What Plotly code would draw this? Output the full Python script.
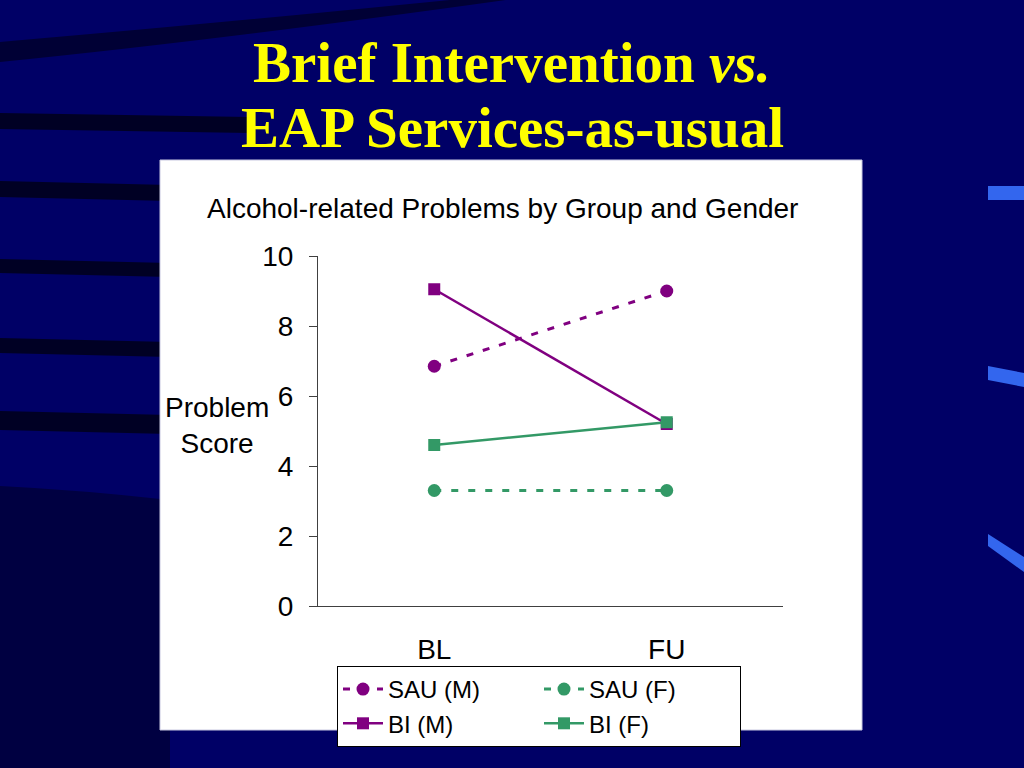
import plotly.graph_objects as go

# ---- data ----
categories = ["BL", "FU"]
sau_m = [6.85, 9.0]
sau_f = [3.3, 3.3]
bi_m = [9.05, 5.2]
bi_f = [4.6, 5.25]
y_ticks = [0, 2, 4, 6, 8, 10]

W, H = 1024, 768
# plot area in pixels
PL, PR, PT, PB = 318, 783, 256, 606


def px(x):
    return (x - PL) / (PR - PL)


def py(y):
    return (PB - y) / (PB - PT)


PURPLE = "#800080"
GREEN = "#339966"
SANS = "Liberation Sans, Arial, sans-serif"
SERIF = "Liberation Serif, Times New Roman, serif"

fig = go.Figure()
fig.add_trace(go.Scatter(x=categories, y=sau_m, name="SAU (M)", mode="lines+markers",
                         line=dict(color=PURPLE, width=3, dash="7px,10px"),
                         marker=dict(symbol="circle", size=13, color=PURPLE)))
fig.add_trace(go.Scatter(x=categories, y=sau_f, name="SAU (F)", mode="lines+markers",
                         line=dict(color=GREEN, width=3, dash="7px,10px"),
                         marker=dict(symbol="circle", size=13, color=GREEN)))
fig.add_trace(go.Scatter(x=categories, y=bi_m, name="BI (M)", mode="lines+markers",
                         line=dict(color=PURPLE, width=2.5),
                         marker=dict(symbol="square", size=12, color=PURPLE)))
fig.add_trace(go.Scatter(x=categories, y=bi_f, name="BI (F)", mode="lines+markers",
                         line=dict(color=GREEN, width=2.5),
                         marker=dict(symbol="square", size=12, color=GREEN)))

shapes = []
# dark background stripes on the left
stripes = [(113, 129, 250), (181, 197, 170), (259, 273, 170), (338, 353, 170), (411, 430, 170)]
for y0, y1, xe in stripes:
    shapes.append(dict(type="path", xref="paper", yref="paper", layer="below",
                       path=f"M {px(0)},{py(y0)} Q {px(xe/2)},{py(y0+2)} {px(xe)},{py(y0+4)} "
                            f"L {px(xe)},{py(y1+4)} Q {px(xe/2)},{py(y1+2)} {px(0)},{py(y1)} Z",
                       fillcolor="rgba(0,0,15,0.75)", line=dict(width=0)))
# top arc
shapes.append(dict(type="path", xref="paper", yref="paper", layer="below",
                   path=f"M {px(0)},{py(42)} Q {px(200)},{py(25)} {px(470)},{py(-2)} "
                        f"L {px(520)},{py(-2)} Q {px(220)},{py(40)} {px(0)},{py(62)} Z",
                   fillcolor="rgba(0,0,20,0.6)", line=dict(width=0)))
# darker lower-left area
shapes.append(dict(type="path", xref="paper", yref="paper", layer="below",
                   path=f"M {px(0)},{py(486)} Q {px(80)},{py(490)} {px(170)},{py(500)} "
                        f"L {px(170)},{py(768)} L {px(0)},{py(768)} Z",
                   fillcolor="rgba(0,0,10,0.4)", line=dict(width=0)))
# light blue marks on the right edge
shapes.append(dict(type="path", xref="paper", yref="paper", layer="below",
                   path=f"M {px(988)},{py(186)} L {px(1024)},{py(186)} L {px(1024)},{py(200)} L {px(988)},{py(200)} Z",
                   fillcolor="#3366ee", line=dict(width=0)))
shapes.append(dict(type="path", xref="paper", yref="paper", layer="below",
                   path=f"M {px(988)},{py(366)} L {px(1024)},{py(373)} L {px(1024)},{py(387)} L {px(988)},{py(380)} Z",
                   fillcolor="#3366ee", line=dict(width=0)))
shapes.append(dict(type="path", xref="paper", yref="paper", layer="below",
                   path=f"M {px(988)},{py(534)} L {px(1024)},{py(557)} L {px(1024)},{py(572)} L {px(988)},{py(546)} Z",
                   fillcolor="#3366ee", line=dict(width=0)))
# white chart panel
shapes.append(dict(type="rect", xref="paper", yref="paper", layer="below",
                   x0=px(160), x1=px(862), y0=py(730), y1=py(160),
                   fillcolor="white", line=dict(color="#c8c8e0", width=1)))

title_font = dict(family=SERIF, size=57, color="#ffff00", weight="bold")
annotations = [
    dict(text="Brief Intervention <i>vs.</i>", xref="paper", yref="paper",
         x=px(512), y=py(62), xanchor="center", yanchor="middle", showarrow=False, font=title_font),
    dict(text="EAP Services-as-usual", xref="paper", yref="paper",
         x=px(512), y=py(127), xanchor="center", yanchor="middle", showarrow=False, font=title_font),
    dict(text="Alcohol-related Problems by Group and Gender", xref="paper", yref="paper",
         x=px(502), y=py(209), xanchor="center", yanchor="middle", showarrow=False,
         font=dict(family=SANS, size=28, color="black")),
    dict(text="Problem<br>Score", xref="paper", yref="paper",
         x=px(217), y=py(425), xanchor="center", yanchor="middle", showarrow=False,
         font=dict(family=SANS, size=28, color="black")),
]

fig.update_layout(
    width=W, height=H,
    margin=dict(l=PL, r=W - PR, t=PT, b=H - PB, autoexpand=False),
    paper_bgcolor="#000066",
    plot_bgcolor="rgba(0,0,0,0)",
    showlegend=True,
    legend=dict(orientation="h", x=px(337), y=py(666), xanchor="left", yanchor="top",
                bgcolor="white", bordercolor="black", borderwidth=1,
                font=dict(family=SANS, size=24, color="black"),
                entrywidth=146, entrywidthmode="pixels", itemwidth=40,
                traceorder="normal"),
    shapes=shapes,
    annotations=annotations,
    xaxis=dict(type="category", range=[-0.5, 1.5], showline=True, linecolor="#404040", linewidth=1,
               ticks="", showgrid=False, zeroline=False, ticklabelstandoff=18,
               tickfont=dict(family=SANS, size=28, color="black")),
    yaxis=dict(range=[0, 10], tickvals=y_ticks, showline=True, linecolor="#404040", linewidth=1,
               ticks="outside", ticklen=8, tickcolor="#404040", showgrid=False, zeroline=False,
               ticklabelstandoff=10,
               tickfont=dict(family=SANS, size=28, color="black")),
)

fig.write_html("out.html", config={"displayModeBar": False},
               post_script="document.body.style.margin='0';document.body.style.overflow='hidden';")
